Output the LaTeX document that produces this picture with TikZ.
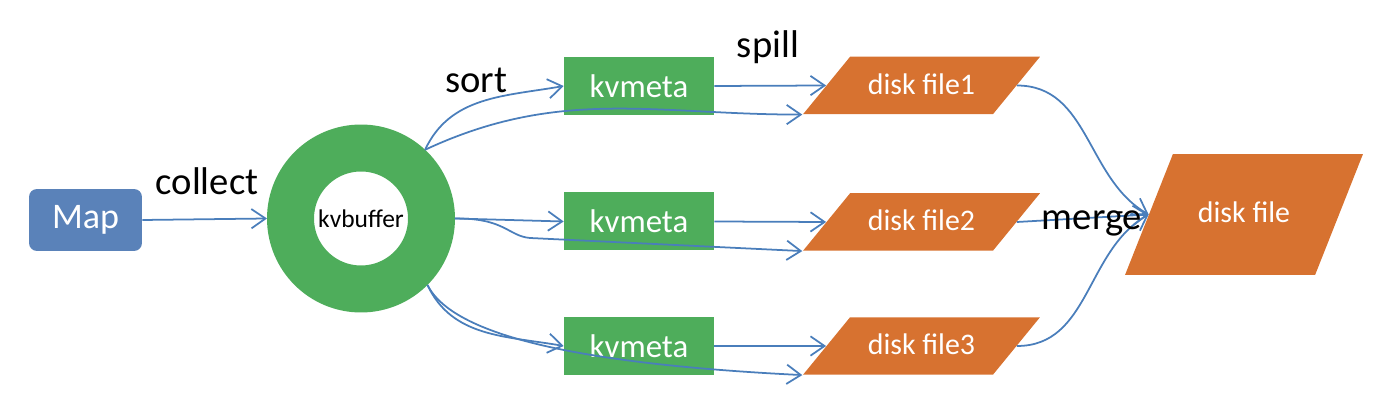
\documentclass[tikz,border=0pt]{standalone}
\usepackage{fontspec}
\setmainfont{Carlito}
\usetikzlibrary{shapes.geometric,arrows.meta}

\definecolor{mapblue}{HTML}{5A82B9}
\definecolor{bufgreen}{HTML}{4EAD5B}
\definecolor{fileorange}{HTML}{D77230}
\definecolor{flowblue}{HTML}{4A7EBB}

\tikzset{
	mapbox/.style={rectangle, rounded corners=0.16cm, fill=mapblue, text=white, minimum width=2.26cm, minimum height=1.24cm, font=\fontsize{20.5}{24}\selectfont},
	metabox/.style={rectangle, fill=bufgreen, text=white, minimum width=3cm, minimum height=1.16cm, font=\fontsize{18.7}{22}\selectfont},
	ringnode/.style={circle, draw=bufgreen, line width=0.94cm, minimum size=2.82cm, inner sep=0pt, font=\fontsize{14.5}{17}\selectfont},
	diskbox/.style={trapezium, trapezium left angle=50.7, trapezium right angle=129.3, trapezium stretches body, minimum width=4.74cm, inner sep=0pt, text height=0.75cm, text depth=0.4cm, fill=fileorange, text=white, font=\fontsize{17}{20}\selectfont},
	bigdisk/.style={diskbox, trapezium left angle=68.4, trapezium right angle=111.6, minimum width=4.76cm, text height=1.38cm, text depth=1.04cm},
	lbl/.style={anchor=base, inner sep=0pt, font=\fontsize{22}{26}\selectfont},
	flow/.style={draw=flowblue, line width=1pt, -{Straight Barb[length=8pt,width=11pt]}}
}

\begin{document}
\begin{tikzpicture}[x=0.02cm, y=-0.02cm]
	\useasboundingbox (0,0) rectangle (1382,404);

	\node[mapbox] (map) at (85.5,220) {Map};
	\node[ringnode] (buf) at (361,218.5) {kvbuffer};

	\node[metabox] (meta1) at (639,86) {kvmeta};
	\node[metabox] (meta2) at (639,221.5) {kvmeta};
	\node[metabox] (meta3) at (639,346) {kvmeta};

	\node[diskbox] (file1) at (921.5,85.5) {disk file1};
	\node[diskbox] (file2) at (921.5,222) {disk file2};
	\node[diskbox] (file3) at (921.5,346) {disk file3};
	\node[bigdisk] (merged) at (1244,214.5) {disk file};

	\coordinate (kink) at (530,238);

	\draw[flow] (map.east) -- (buf.west);
	\draw[flow] (buf.47) to[out=65,in=190] (meta1.west);
	\draw[flow] (buf.47) to[out=25,in=180] (file1.bottom left corner);
	\draw[flow] (buf.east) -- (meta2.west);
	\draw[flow] (buf.east) .. controls (505,218) and (508,236) .. (kink) -- (file2.bottom left corner);
	\draw[flow] (buf.-45) to[out=-65,in=170] (meta3.west);
	\draw[flow] (buf.-45) .. controls (455,340) and (600,365) .. (file3.bottom left corner);

	\draw[flow] (meta1.east) -- (file1.left side);
	\draw[flow] (meta2.east) -- (file2.left side);
	\draw[flow] (meta3.east) -- (file3.left side);

	\draw[flow] (file1.right side) to[out=0,in=150] (merged.left side);
	\draw[flow] (file2.right side) -- (merged.left side);
	\draw[flow] (file3.right side) to[out=0,in=210] (merged.left side);

	\node[lbl] (lcollect) at (207,195) {collect};
	\node[lbl] (lsort) at (476,93) {sort};
	\node[lbl] (lspill) at (768,58) {spill};
	\node[lbl] (lmerge) at (1092,230) {merge};
\end{tikzpicture}
\end{document}
